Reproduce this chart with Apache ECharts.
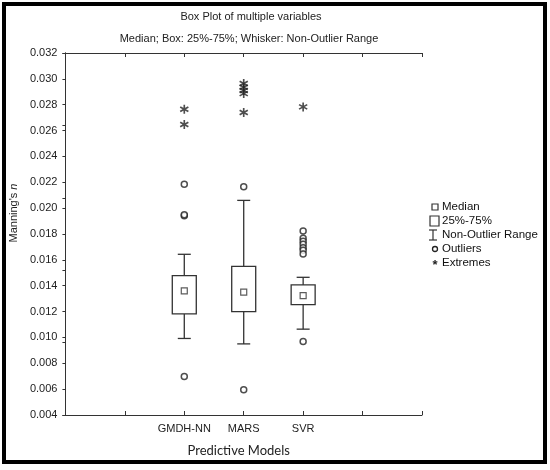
<!DOCTYPE html>
<html>
<head>
<meta charset="utf-8">
<script src="https://cdn.jsdelivr.net/npm/echarts@6/dist/echarts.min.js"></script>
<style>
  html, body { margin: 0; padding: 0; background: #fff; }
  #chart { width: 550px; height: 470px; }
</style>
</head>
<body>
<div id="chart"></div>
<script>
// Modellen en hun plek op de x-as (0..6)
const models = ['GMDH-NN', 'MARS', 'SVR'];
const modelPos = [2, 3, 4];

// Boxplot-statistiek per model
const whiskerLow = [0.00992, 0.0095, 0.01064];
const q1 = [0.01182, 0.0120, 0.01254];
const median = [0.0136, 0.0135, 0.01324];
const q3 = [0.01478, 0.0155, 0.01406];
const whiskerHigh = [0.01643, 0.0206, 0.01465];

// Uitschieters en extremen
const outliers = [
  [0.02184, 0.01941, 0.01948, 0.00698],
  [0.02165, 0.00595],
  [0.01823, 0.01767, 0.01744, 0.01721, 0.01694, 0.01674, 0.01645, 0.00968]
];
const extremes = [
  [0.02765, 0.02647],
  [0.02964, 0.02935, 0.0291, 0.02886, 0.0274],
  [0.02783]
];

const yTicks = { min: 0.004, max: 0.032, step: 0.002 };

const ink = '#333';
const font = 'Liberation Sans, Arial, sans-serif';

// asterisk als symbool (drie balken, zelfde draairichting)
const starPath = 'path://M4.1,0L5.9,0L5.9,10L4.1,10Z' +
  'M0.1,3.28L1.0,1.72L9.9,6.72L9.0,8.28Z' +
  'M0.1,6.72L9.0,1.72L9.9,3.28L1.0,8.28Z';

const boxData = models.map((m, i) => [modelPos[i], whiskerLow[i], q1[i], median[i], q3[i], whiskerHigh[i]]);
const medianData = models.map((m, i) => [modelPos[i], median[i]]);
const outlierData = [];
outliers.forEach((list, i) => list.forEach(v => outlierData.push([modelPos[i], v])));
const extremeData = [];
extremes.forEach((list, i) => list.forEach(v => extremeData.push([modelPos[i], v])));

const chart = echarts.init(document.getElementById('chart'), null, { renderer: 'canvas' });

const lgX = 435, lgTx = 442;
const legendRows = [207, 221, 235, 249, 263];
const legendTxt = { fill: '#111', font: '11.5px ' + font, textVerticalAlign: 'middle' };

chart.setOption({
  animation: false,
  backgroundColor: '#fff',
  title: [
    { text: 'Box Plot of multiple variables', left: 251, top: 11, padding: 0, textAlign: 'center',
      textStyle: { fontFamily: font, fontSize: 11, fontWeight: 'normal', color: '#222' } },
    { text: 'Median; Box: 25%-75%; Whisker: Non-Outlier Range', left: 249, top: 33, padding: 0, textAlign: 'center',
      textStyle: { fontFamily: font, fontSize: 11, fontWeight: 'normal', color: '#222' } }
  ],
  grid: { left: 65, right: 128, top: 53, bottom: 55 },
  xAxis: [
    {
      type: 'value', min: 0, max: 6, interval: 1, position: 'bottom',
      name: 'Predictive Models', nameLocation: 'middle', nameGap: 29,
      nameTextStyle: { fontFamily: 'Lato, sans-serif', fontSize: 13, color: '#222', padding: [0, 10, 0, 0] },
      axisLine: { lineStyle: { color: ink, width: 1 } },
      axisTick: { inside: true, length: 4, lineStyle: { color: ink } },
      splitLine: { show: false },
      axisLabel: {
        margin: 8, fontFamily: font, fontSize: 11, color: '#222',
        formatter: v => { const k = modelPos.indexOf(v); return k >= 0 ? models[k] : ''; }
      }
    },
    {
      type: 'value', min: 0, max: 6, interval: 1, position: 'top',
      axisLine: { lineStyle: { color: ink, width: 1 } },
      axisTick: { inside: true, length: 4, lineStyle: { color: ink } },
      axisLabel: { show: false }, splitLine: { show: false }
    }
  ],
  yAxis: [
    {
      type: 'value', min: yTicks.min, max: yTicks.max, interval: yTicks.step,
      name: "Manning's {i|n}", nameLocation: 'middle', nameGap: 46,
      nameTextStyle: {
        fontFamily: font, fontSize: 11, color: '#222', padding: [0, 0, 0, 42],
        rich: { i: { fontStyle: 'italic', fontFamily: font, fontSize: 11, color: '#222' } }
      },
      axisLine: { show: true, lineStyle: { color: ink, width: 1 } },
      axisTick: { show: true, length: 3, lineStyle: { color: ink } },
      splitLine: { show: false },
      axisLabel: { margin: 8, fontFamily: font, fontSize: 11, color: '#222', formatter: v => v.toFixed(3) }
    },
    {
      type: 'value', min: 0, max: 5, interval: 1, position: 'right',
      axisLine: { show: true, lineStyle: { color: ink, width: 1 } },
      axisTick: { show: true, inside: true, length: 3, lineStyle: { color: ink } },
      axisLabel: { show: false }, splitLine: { show: false }
    }
  ],
  series: [
    {
      name: '25%-75%',
      type: 'custom',
      data: boxData,
      encode: { x: 0, y: [1, 2, 3, 4, 5] },
      z: 2,
      renderItem: (params, api) => {
        const x = api.value(0);
        const lo = api.coord([x, api.value(1)]);
        const b1 = api.coord([x, api.value(2)]);
        const b3 = api.coord([x, api.value(4)]);
        const hi = api.coord([x, api.value(5)]);
        const bw = 24, cw = 13;
        const st = { stroke: ink, lineWidth: 1.3, fill: null };
        return {
          type: 'group',
          children: [
            { type: 'line', shape: { x1: hi[0], y1: hi[1], x2: b3[0], y2: b3[1] }, style: st },
            { type: 'line', shape: { x1: b1[0], y1: b1[1], x2: lo[0], y2: lo[1] }, style: st },
            { type: 'line', shape: { x1: hi[0] - cw / 2, y1: hi[1], x2: hi[0] + cw / 2, y2: hi[1] }, style: st },
            { type: 'line', shape: { x1: lo[0] - cw / 2, y1: lo[1], x2: lo[0] + cw / 2, y2: lo[1] }, style: st },
            { type: 'rect', shape: { x: b3[0] - bw / 2, y: b3[1], width: bw, height: b1[1] - b3[1] },
              style: { stroke: ink, lineWidth: 1.3, fill: '#fff' } }
          ]
        };
      }
    },
    {
      name: 'Median', type: 'scatter', data: medianData, z: 3,
      symbol: 'rect', symbolSize: 6,
      itemStyle: { color: '#fff', borderColor: ink, borderWidth: 1.2 }
    },
    {
      name: 'Outliers', type: 'scatter', data: outlierData, z: 3,
      symbol: 'circle', symbolSize: 6,
      itemStyle: { color: '#fff', borderColor: '#222', borderWidth: 1.5 }
    },
    {
      name: 'Extremes', type: 'scatter', data: extremeData, z: 3,
      symbol: starPath, symbolSize: 9,
      itemStyle: { color: '#222' }
    }
  ],
  graphic: [
    // buitenkader
    { type: 'rect', shape: { x: 4, y: 4, width: 541, height: 458 },
      style: { fill: null, stroke: '#000', lineWidth: 4 }, silent: true },
    // legenda
    { type: 'rect', shape: { x: lgX - 3, y: legendRows[0] - 3, width: 6, height: 6 },
      style: { fill: '#fff', stroke: ink, lineWidth: 1.2 } },
    { type: 'text', x: lgTx, y: legendRows[0], style: Object.assign({ text: 'Median' }, legendTxt) },
    { type: 'rect', shape: { x: lgX - 5, y: legendRows[1] - 5, width: 9, height: 10 },
      style: { fill: '#fff', stroke: ink, lineWidth: 1.2 } },
    { type: 'text', x: lgTx, y: legendRows[1], style: Object.assign({ text: '25%-75%' }, legendTxt) },
    { type: 'polyline', shape: { points: [[lgX - 6, legendRows[2] - 5], [lgX + 2, legendRows[2] - 5]] },
      style: { stroke: ink, lineWidth: 1.2 } },
    { type: 'polyline', shape: { points: [[lgX - 2, legendRows[2] - 5], [lgX - 2, legendRows[2] + 5]] },
      style: { stroke: ink, lineWidth: 1.2 } },
    { type: 'polyline', shape: { points: [[lgX - 6, legendRows[2] + 5], [lgX + 2, legendRows[2] + 5]] },
      style: { stroke: ink, lineWidth: 1.2 } },
    { type: 'text', x: lgTx, y: legendRows[2], style: Object.assign({ text: 'Non-Outlier Range' }, legendTxt) },
    { type: 'circle', shape: { cx: lgX, cy: legendRows[3], r: 2.5 },
      style: { fill: '#fff', stroke: '#222', lineWidth: 1.3 } },
    { type: 'text', x: lgTx, y: legendRows[3], style: Object.assign({ text: 'Outliers' }, legendTxt) },
    { type: 'text', x: lgX, y: legendRows[4] + 2,
      style: { text: '*', fill: '#222', font: 'bold 13px ' + font, textAlign: 'center', textVerticalAlign: 'middle' } },
    { type: 'text', x: lgTx, y: legendRows[4], style: Object.assign({ text: 'Extremes' }, legendTxt) }
  ]
});

window.addEventListener('resize', () => chart.resize());
</script>
</body>
</html>
